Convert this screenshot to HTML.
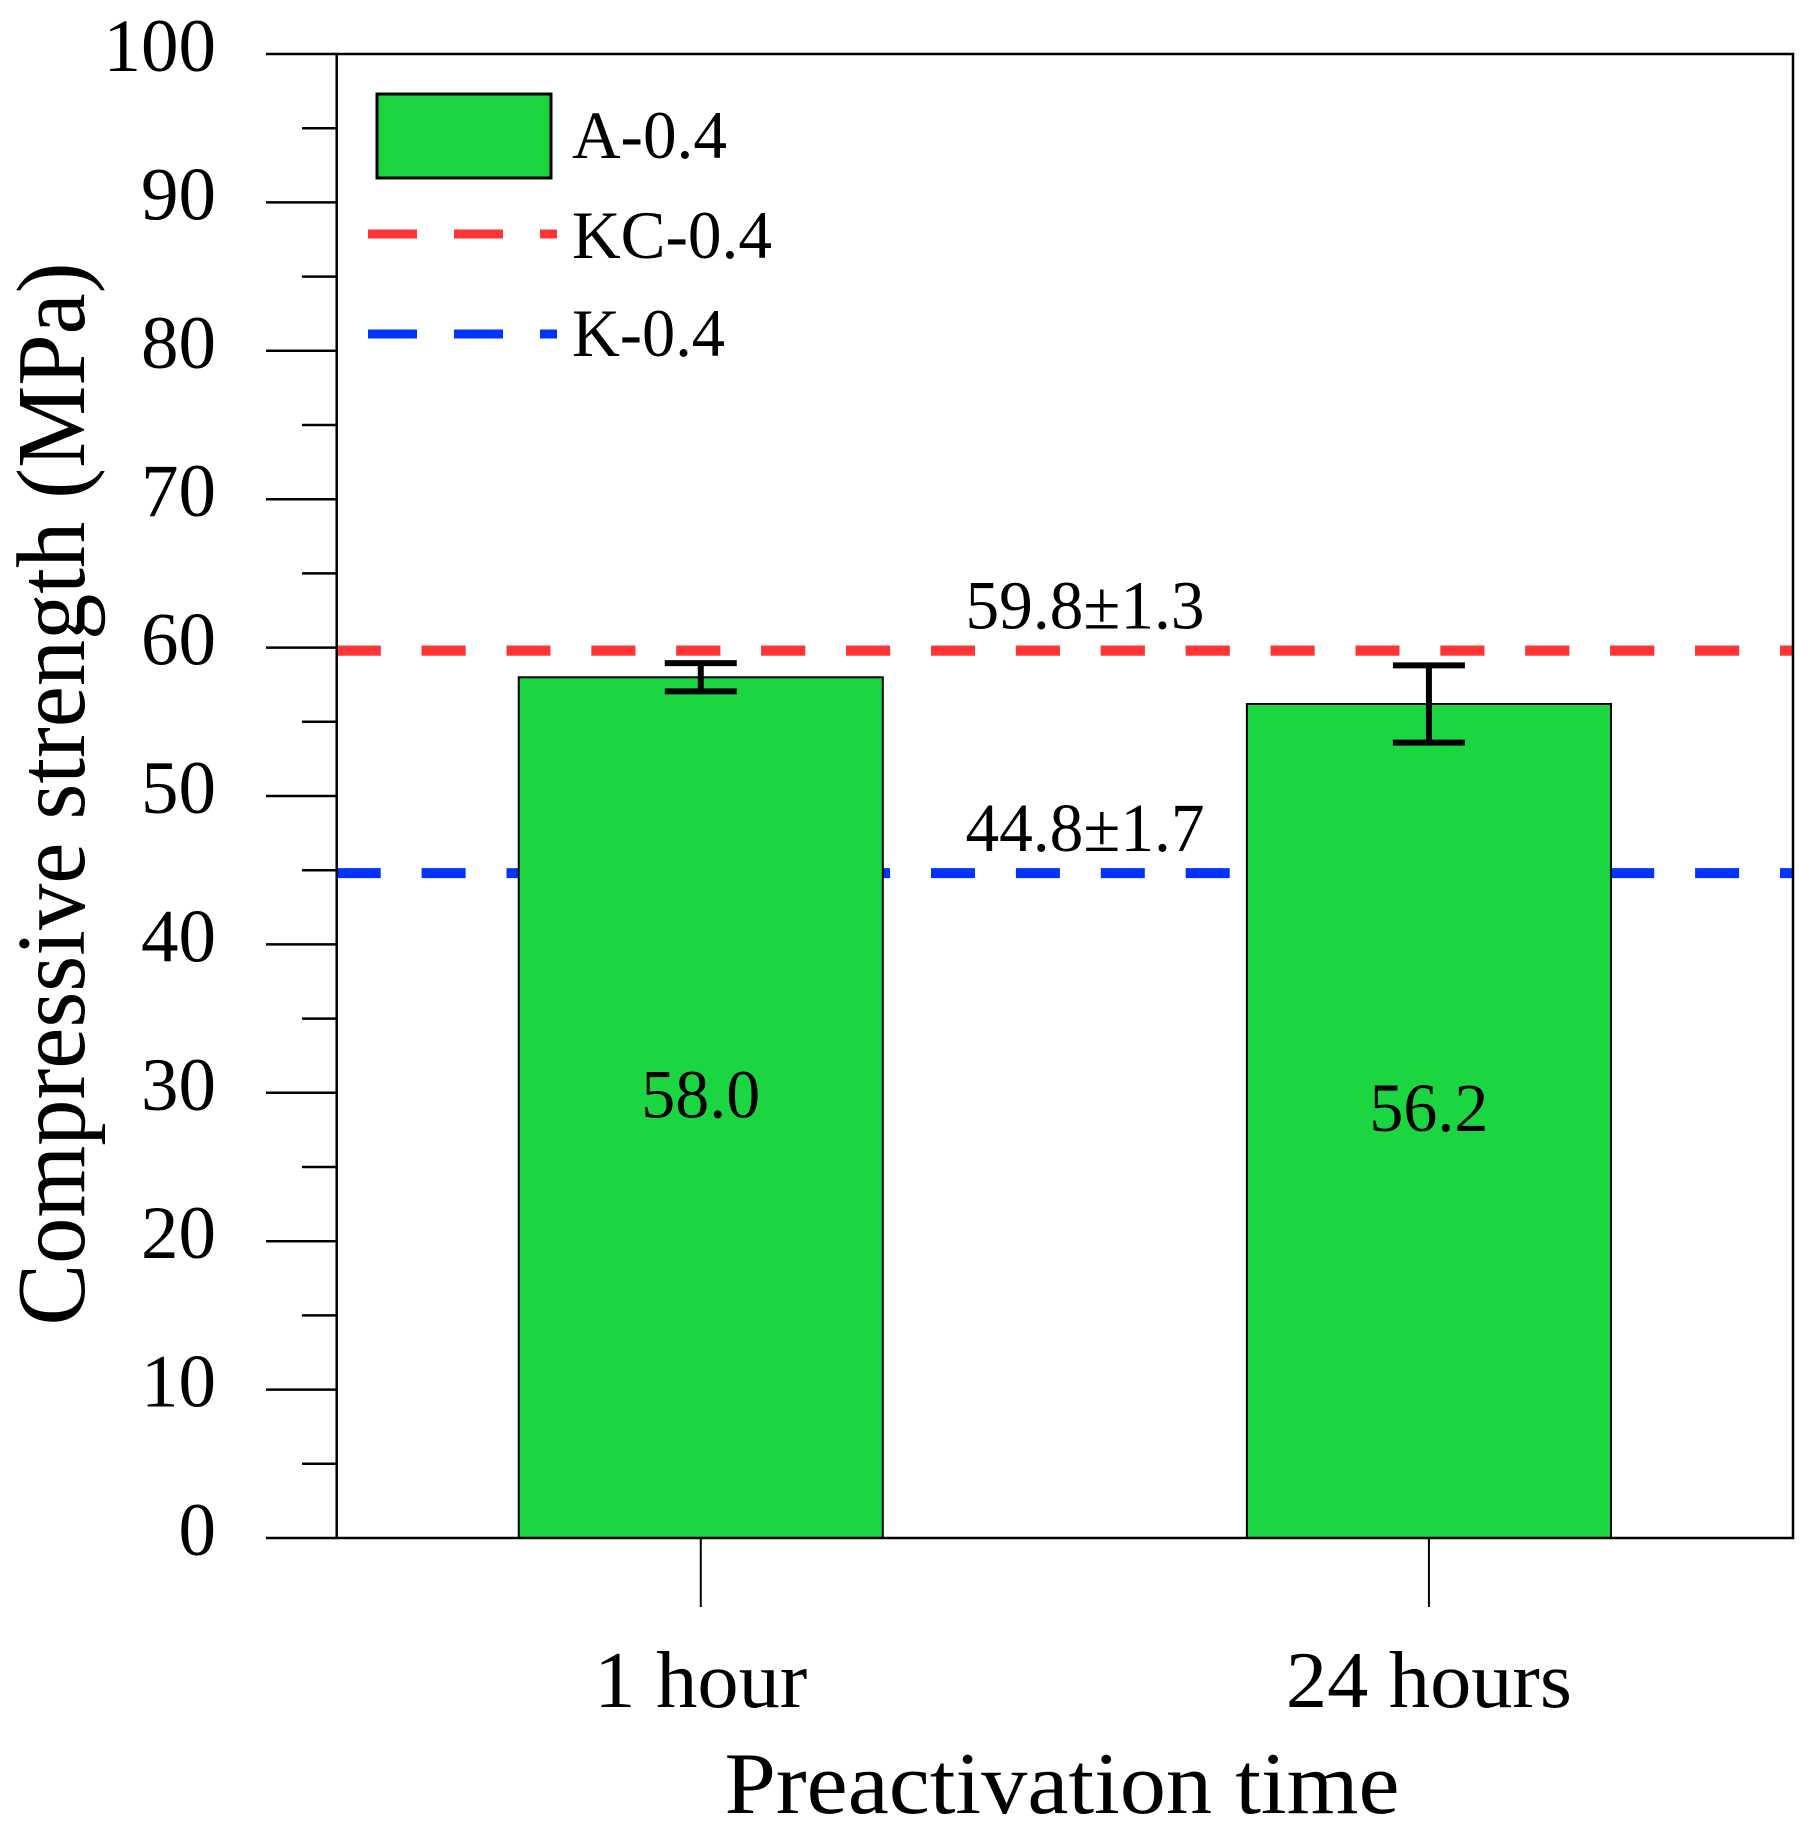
<!DOCTYPE html>
<html><head><meta charset="utf-8"><style>
html,body{margin:0;padding:0;background:#fff;}
svg{display:block;font-family:"Liberation Serif",serif;}
</style></head><body>
<svg id="chart" width="1812" height="1833" viewBox="0 0 1812 1833" xmlns="http://www.w3.org/2000/svg">
<rect x="0" y="0" width="1812" height="1833" fill="#fff"/>
<g id="g"></g>
</svg>
<script>
const categories = ["1 hour", "24 hours"];
const barValues = [58.0, 56.2];
const barErrors = [0.95, 2.6];
const barLabels = ["58.0", "56.2"];
const refValues = [59.8, 44.8];
const refLabels = ["59.8\u00b11.3", "44.8\u00b11.7"];
const refNames = ["KC-0.4", "K-0.4"];
const refColors = ["#ff3535", "#0033ff"];
const yTicks = [0, 10, 20, 30, 40, 50, 60, 70, 80, 90, 100];

const L = 336.7, R = 1793, T = 54, B = 1538;
const yMin = 0, yMax = 100;
function y(v){ return B - (v - yMin) / (yMax - yMin) * (B - T); }
function xc(i){ return L + (i + 0.5) / categories.length * (R - L); }
const bw = (R - L) * 0.25;
const NS = "http://www.w3.org/2000/svg";
const g = document.getElementById('g');
function el(tag, attrs, parent){
  const e = document.createElementNS(NS, tag);
  for (const k in attrs) e.setAttribute(k, attrs[k]);
  (parent || g).appendChild(e);
  return e;
}
function txt(s, attrs){ const t = el('text', attrs); t.textContent = s; return t; }

const dash = "44 40.9";
const legDash = "49 37";
refValues.forEach((v, i) => {
  const ln = el('line', {x1: L, x2: R, y1: y(v), y2: y(v), stroke: refColors[i], 'stroke-width': 10, 'stroke-dasharray': dash});
  
  
});

barValues.forEach((v, i) => {
  const r = el('rect', {x: xc(i) - bw / 2, y: y(v), width: bw, height: y(0) - y(v), fill: '#1bd641', stroke: '#000', 'stroke-width': 2});
  
  
  const lb = txt(barLabels[i], {x: xc(i), y: y(v / 2) + 10, 'font-size': 69, 'text-anchor': 'middle', textLength: 119, lengthAdjust: 'spacingAndGlyphs'});
  
  
});

const red = el('line', {x1: L, x2: R, y1: y(refValues[0]), y2: y(refValues[0]), stroke: refColors[0], 'stroke-width': 10, 'stroke-dasharray': dash});



barValues.forEach((v, i) => {
  const eg = el('g', {stroke: '#000'});
  
  
  const cx = xc(i);
  el('line', {x1: cx, x2: cx, y1: y(v + barErrors[i]), y2: y(v - barErrors[i]), 'stroke-width': 6}, eg);
  el('line', {x1: cx - 36, x2: cx + 36, y1: y(v + barErrors[i]), y2: y(v + barErrors[i]), 'stroke-width': 6}, eg);
  el('line', {x1: cx - 36, x2: cx + 36, y1: y(v - barErrors[i]), y2: y(v - barErrors[i]), 'stroke-width': 6}, eg);
});

refValues.forEach((v, i) => {
  const t = txt(refLabels[i], {x: 1085, y: y(v) - 22, 'font-size': 69, 'text-anchor': 'middle', textLength: 239, lengthAdjust: 'spacingAndGlyphs'});
  
  
});

const fr = el('rect', {x: L, y: T, width: R - L, height: B - T, fill: 'none', stroke: '#000', 'stroke-width': 2.5});



yTicks.forEach((v, i) => {
  const tk = el('line', {x1: 266, x2: L, y1: y(v), y2: y(v), stroke: '#000', 'stroke-width': 2.5});
  
  
  if (i < yTicks.length - 1) {
    const mv = (v + yTicks[i + 1]) / 2;
    const mt = el('line', {x1: 302, x2: L, y1: y(mv), y2: y(mv), stroke: '#000', 'stroke-width': 2.5});
    
    
  }
  const lb = txt(String(v), {x: 216, y: y(v) + 17, 'font-size': 75, 'text-anchor': 'end'});
  
  
});

const xw = [213, 286];
categories.forEach((c, i) => {
  const tk = el('line', {x1: xc(i), x2: xc(i), y1: B, y2: 1607, stroke: '#000', 'stroke-width': 2});
  
  
  const lb = txt(c, {x: xc(i), y: 1707, 'font-size': 81, 'text-anchor': 'middle', textLength: xw[i], lengthAdjust: 'spacingAndGlyphs'});
  
  
});

const xt = txt("Preactivation time", {x: 1062, y: 1813, 'font-size': 88, 'text-anchor': 'middle', textLength: 675, lengthAdjust: 'spacingAndGlyphs'});


const yt = txt("Compressive strength (MPa)", {x: 0, y: 0, 'font-size': 98, 'text-anchor': 'middle', textLength: 1063, lengthAdjust: 'spacingAndGlyphs', transform: 'translate(84,794) rotate(-90)'});



const lg = el('g', {});


const sw = el('rect', {x: 377, y: 94, width: 174, height: 84, fill: '#1bd641', stroke: '#000', 'stroke-width': 3}, lg);


const la = el('text', {x: 572, y: 158, 'font-size': 68, textLength: 155, lengthAdjust: 'spacingAndGlyphs'}, lg);
la.textContent = "A-0.4";


const legY = [234, 334], legBase = [258, 356], legW = [200, 153];
refNames.forEach((n, i) => {
  const ln = el('line', {x1: 368, x2: 557, y1: legY[i], y2: legY[i], stroke: refColors[i], 'stroke-width': 9, 'stroke-dasharray': legDash}, lg);
  
  
  const t = el('text', {x: 572, y: legBase[i], 'font-size': 68, textLength: legW[i], lengthAdjust: 'spacingAndGlyphs'}, lg);
  t.textContent = n;
  
  
});
</script>
</body></html>
